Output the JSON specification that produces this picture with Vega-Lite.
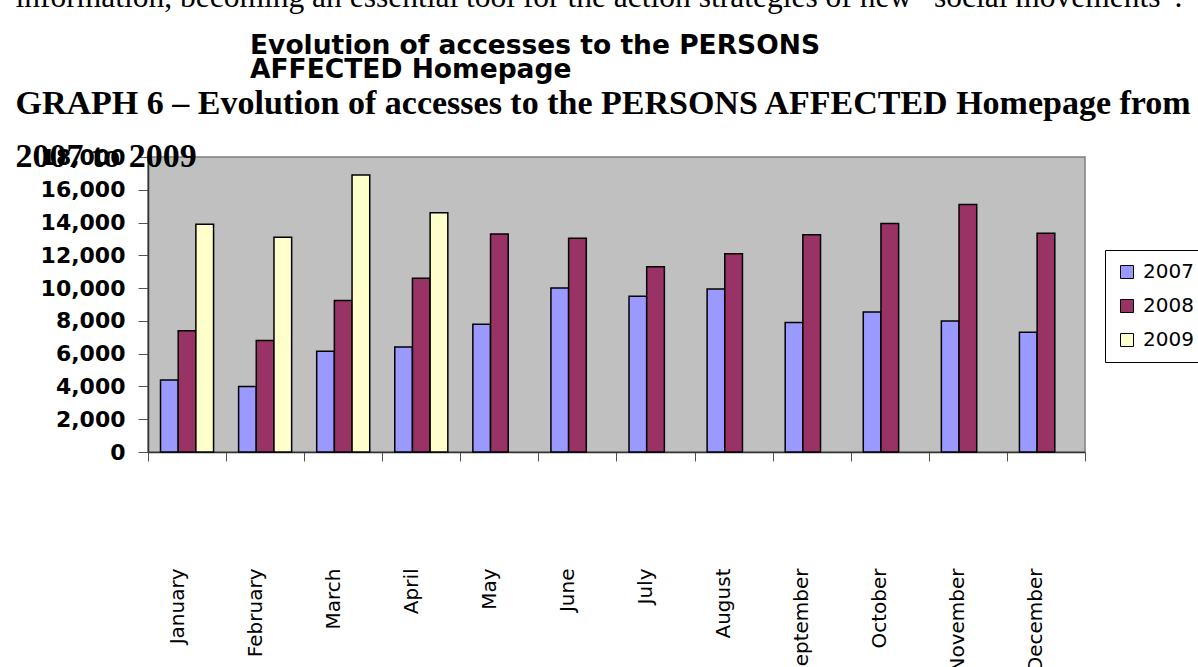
{
  "$schema": "https://vega.github.io/schema/vega-lite/v6.json",
  "width": 937,
  "height": 295,
  "autosize": {"type": "none"},
  "padding": {"left": 148, "top": 157, "right": 113, "bottom": 215},
  "background": "white",
  "title": {
    "text": ["Evolution of accesses to the PERSONS", "AFFECTED Homepage"],
    "anchor": "start",
    "frame": "group",
    "dx": 102,
    "dy": 106,
    "font": "DejaVu Sans",
    "fontWeight": "bold",
    "fontSize": 26.5,
    "lineHeight": 24,
    "color": "black"
  },
  "data": {
    "values": [
      {"month": "January", "year": "2007", "visits": 4400},
      {"month": "January", "year": "2008", "visits": 7400},
      {"month": "January", "year": "2009", "visits": 13900},
      {"month": "February", "year": "2007", "visits": 4000},
      {"month": "February", "year": "2008", "visits": 6800},
      {"month": "February", "year": "2009", "visits": 13100},
      {"month": "March", "year": "2007", "visits": 6150},
      {"month": "March", "year": "2008", "visits": 9250},
      {"month": "March", "year": "2009", "visits": 16900},
      {"month": "April", "year": "2007", "visits": 6400},
      {"month": "April", "year": "2008", "visits": 10600},
      {"month": "April", "year": "2009", "visits": 14600},
      {"month": "May", "year": "2007", "visits": 7800},
      {"month": "May", "year": "2008", "visits": 13300},
      {"month": "June", "year": "2007", "visits": 10000},
      {"month": "June", "year": "2008", "visits": 13050},
      {"month": "July", "year": "2007", "visits": 9500},
      {"month": "July", "year": "2008", "visits": 11300},
      {"month": "August", "year": "2007", "visits": 9950},
      {"month": "August", "year": "2008", "visits": 12100},
      {"month": "September", "year": "2007", "visits": 7900},
      {"month": "September", "year": "2008", "visits": 13250},
      {"month": "October", "year": "2007", "visits": 8550},
      {"month": "October", "year": "2008", "visits": 13950},
      {"month": "November", "year": "2007", "visits": 8000},
      {"month": "November", "year": "2008", "visits": 15100},
      {"month": "December", "year": "2007", "visits": 7300},
      {"month": "December", "year": "2008", "visits": 13350}
    ]
  },
  "mark": {"type": "bar", "stroke": "black", "strokeWidth": 1.5},
  "encoding": {
    "x": {
      "field": "month",
      "type": "nominal",
      "sort": ["January", "February", "March", "April", "May", "June", "July", "August", "September", "October", "November", "December"],
      "scale": {"paddingInner": 0, "paddingOuter": 0},
      "axis": {
        "title": "information, becoming an essential tool for the action strategies of new “social movements”.",
        "titleX": -133,
        "titleY": -446,
        "titleAngle": 0,
        "titleAlign": "left",
        "titleBaseline": "alphabetic",
        "titleFont": "Liberation Serif",
        "titleFontSize": 31.5,
        "titleFontWeight": "normal",
        "titleColor": "black",
        "labelAngle": -90,
        "labelAlign": "right",
        "labelBaseline": "middle",
        "labelFont": "DejaVu Sans",
        "labelFontSize": 20,
        "labelColor": "black",
        "labelPadding": 107,
        "labelOffset": -10,
        "labelOverlap": false,
        "tickBand": "extent",
        "tickSize": 9,
        "tickColor": "#555555",
        "domainColor": "#333333",
        "domainWidth": 1.5
      }
    },
    "xOffset": {
      "field": "year",
      "type": "nominal",
      "scale": {"paddingInner": 0, "paddingOuter": 0.708}
    },
    "y": {
      "field": "visits",
      "type": "quantitative",
      "scale": {"domain": [0, 18000], "nice": false},
      "axis": {
        "title": ["GRAPH 6 – Evolution of accesses to the PERSONS AFFECTED Homepage from", "2007 to 2009"],
        "titleX": -133,
        "titleY": -44,
        "titleAngle": 0,
        "titleAlign": "left",
        "titleBaseline": "alphabetic",
        "titleFont": "Liberation Serif",
        "titleFontSize": 34,
        "titleFontWeight": "bold",
        "titleLineHeight": 53,
        "titleColor": "black",
        "values": [0, 2000, 4000, 6000, 8000, 10000, 12000, 14000, 16000, 18000],
        "format": ",.0f",
        "labelFont": "DejaVu Sans",
        "labelFontWeight": "bold",
        "labelFontSize": 22,
        "labelColor": "black",
        "labelPadding": 13,
        "tickSize": 10,
        "tickColor": "#555555",
        "domainColor": "#333333",
        "domainWidth": 1.5,
        "grid": false
      }
    },
    "color": {
      "field": "year",
      "type": "nominal",
      "scale": {"domain": ["2007", "2008", "2009"], "range": ["#9999FF", "#993366", "#FFFFCC"]},
      "legend": {
        "orient": "none",
        "legendX": 957,
        "legendY": 93,
        "title": null,
        "fillColor": "white",
        "strokeColor": "black",
        "padding": 12,
        "symbolType": "square",
        "symbolSize": 169,
        "symbolStrokeColor": "black",
        "symbolStrokeWidth": 1,
        "symbolOpacity": 1,
        "labelFont": "DejaVu Sans",
        "labelFontSize": 20,
        "labelColor": "black",
        "labelOffset": 6,
        "rowPadding": 14
      }
    }
  },
  "config": {
    "view": {"fill": "#C0C0C0", "stroke": "#808080", "strokeWidth": 1.5}
  }
}
